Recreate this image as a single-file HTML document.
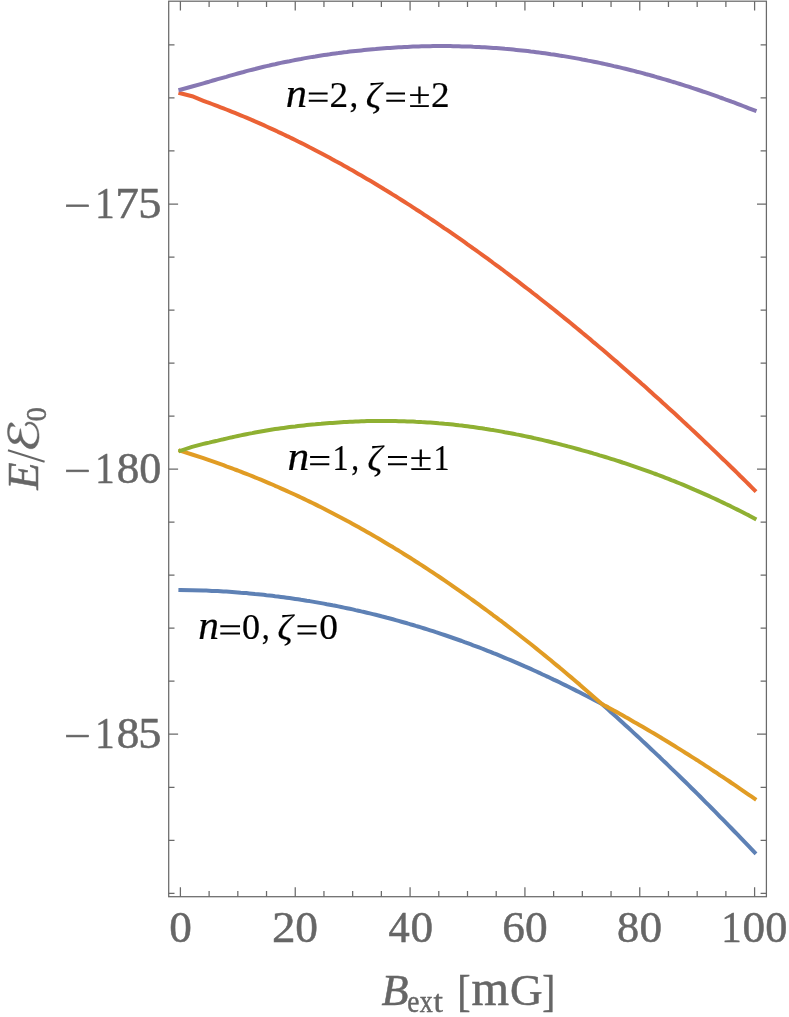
<!DOCTYPE html>
<html><head><meta charset="utf-8"><title>plot</title>
<style>html,body{margin:0;padding:0;background:#fff}svg{display:block}text{font-family:"Liberation Serif",serif}svg{will-change:transform}g.t{filter:opacity(.999)}</style></head>
<body>
<svg width="789" height="1017" viewBox="0 0 789 1017">
<rect width="789" height="1017" fill="#fff"/>
<path d="M180.4,590.0 L192.1,590.2 L203.4,590.5 L206.2,590.6 L209.1,590.7 L212.0,590.9 L214.9,591.0 L217.7,591.1 L220.6,591.3 L223.5,591.5 L226.3,591.6 L229.2,591.8 L232.1,592.0 L234.9,592.2 L237.8,592.4 L240.7,592.7 L243.6,592.9 L246.4,593.1 L249.3,593.4 L252.2,593.7 L255.0,594.0 L257.9,594.2 L260.8,594.5 L263.7,594.8 L266.5,595.2 L269.4,595.5 L272.3,595.8 L275.1,596.2 L278.0,596.5 L280.9,596.9 L283.8,597.3 L286.6,597.7 L289.5,598.1 L292.4,598.5 L295.2,598.9 L298.1,599.3 L301.0,599.8 L303.9,600.2 L306.7,600.7 L309.6,601.1 L312.5,601.6 L315.3,602.1 L318.2,602.6 L321.1,603.1 L324.0,603.6 L326.8,604.2 L329.7,604.7 L332.6,605.3 L335.4,605.8 L338.3,606.4 L341.2,607.0 L344.0,607.6 L346.9,608.2 L349.8,608.8 L352.7,609.4 L355.5,610.1 L358.4,610.7 L361.3,611.4 L364.1,612.0 L367.0,612.7 L369.9,613.4 L372.8,614.1 L375.6,614.8 L378.5,615.5 L381.4,616.3 L384.2,617.0 L387.1,617.8 L390.0,618.5 L392.9,619.3 L395.7,620.1 L398.6,620.9 L401.5,621.7 L404.3,622.5 L407.2,623.3 L410.1,624.2 L413.0,625.0 L415.8,625.9 L418.7,626.7 L421.6,627.6 L424.4,628.5 L427.3,629.4 L430.2,630.3 L433.0,631.2 L435.9,632.2 L438.8,633.1 L441.7,634.1 L444.5,635.0 L447.4,636.0 L450.3,637.0 L453.1,638.0 L456.0,639.0 L458.9,640.0 L461.8,641.0 L464.6,642.1 L467.5,643.1 L470.4,644.2 L473.2,645.3 L476.1,646.3 L479.0,647.4 L481.9,648.5 L484.7,649.7 L487.6,650.8 L490.5,651.9 L493.3,653.1 L496.2,654.2 L499.1,655.4 L502.0,656.6 L504.8,657.8 L507.7,659.0 L510.6,660.2 L513.4,661.4 L516.3,662.6 L519.2,663.9 L522.0,665.1 L524.9,666.4 L527.8,667.6 L530.7,668.9 L533.5,670.2 L536.4,671.5 L539.3,672.8 L542.1,674.2 L545.0,675.5 L547.9,676.8 L550.8,678.2 L553.6,679.6 L556.5,680.9 L559.4,682.3 L562.2,683.7 L565.1,685.1 L568.0,686.5 L570.9,688.0 L573.7,689.4 L576.6,690.9 L579.5,692.3 L582.3,693.8 L585.2,695.3 L588.1,696.7 L591.0,698.2 L593.8,699.7 L596.7,701.3 L599.6,702.8 L602.0,704.1 L602.4,704.5 L605.3,707.0 L608.2,709.6 L611.0,712.2 L613.9,714.7 L616.8,717.3 L619.7,719.9 L622.5,722.5 L625.4,725.2 L628.3,727.8 L631.1,730.4 L634.0,733.1 L636.9,735.7 L639.8,738.4 L642.6,741.1 L645.5,743.8 L648.4,746.5 L651.2,749.2 L654.1,751.9 L657.0,754.6 L659.9,757.3 L662.7,760.1 L665.6,762.8 L668.5,765.6 L671.3,768.4 L674.2,771.1 L677.1,773.9 L680.0,776.7 L682.8,779.5 L685.7,782.3 L688.6,785.2 L691.4,788.0 L694.3,790.8 L697.2,793.7 L700.1,796.5 L702.9,799.4 L705.8,802.3 L708.7,805.2 L711.5,808.0 L714.4,810.9 L717.3,813.9 L720.1,816.8 L723.0,819.7 L725.9,822.6 L728.8,825.6 L731.6,828.5 L734.5,831.5 L737.4,834.4 L740.2,837.4 L743.1,840.4 L746.0,843.4 L748.9,846.4 L751.7,849.4 L754.6,852.4" fill="none" stroke="#5e81b5" stroke-width="4.0" stroke-linejoin="round" stroke-linecap="square"/>
<path d="M180.4,450.8 L192.1,454.5 L203.4,458.2 L206.2,459.2 L209.1,460.2 L212.0,461.2 L214.9,462.2 L217.7,463.2 L220.6,464.2 L223.5,465.2 L226.3,466.3 L229.2,467.3 L232.1,468.4 L234.9,469.5 L237.8,470.5 L240.7,471.6 L243.6,472.8 L246.4,473.9 L249.3,475.0 L252.2,476.2 L255.0,477.3 L257.9,478.5 L260.8,479.7 L263.7,480.9 L266.5,482.1 L269.4,483.3 L272.3,484.5 L275.1,485.8 L278.0,487.0 L280.9,488.3 L283.8,489.6 L286.6,490.9 L289.5,492.2 L292.4,493.5 L295.2,494.8 L298.1,496.1 L301.0,497.5 L303.9,498.9 L306.7,500.2 L309.6,501.6 L312.5,503.0 L315.3,504.4 L318.2,505.9 L321.1,507.3 L324.0,508.7 L326.8,510.2 L329.7,511.7 L332.6,513.2 L335.4,514.7 L338.3,516.2 L341.2,517.7 L344.0,519.2 L346.9,520.8 L349.8,522.3 L352.7,523.9 L355.5,525.5 L358.4,527.1 L361.3,528.7 L364.1,530.3 L367.0,531.9 L369.9,533.6 L372.8,535.2 L375.6,536.9 L378.5,538.6 L381.4,540.3 L384.2,542.0 L387.1,543.7 L390.0,545.4 L392.9,547.1 L395.7,548.9 L398.6,550.6 L401.5,552.4 L404.3,554.2 L407.2,556.0 L410.1,557.8 L413.0,559.6 L415.8,561.5 L418.7,563.3 L421.6,565.2 L424.4,567.0 L427.3,568.9 L430.2,570.8 L433.0,572.7 L435.9,574.6 L438.8,576.5 L441.7,578.5 L444.5,580.4 L447.4,582.4 L450.3,584.3 L453.1,586.3 L456.0,588.3 L458.9,590.3 L461.8,592.3 L464.6,594.4 L467.5,596.4 L470.4,598.5 L473.2,600.5 L476.1,602.6 L479.0,604.7 L481.9,606.8 L484.7,608.9 L487.6,611.0 L490.5,613.1 L493.3,615.3 L496.2,617.4 L499.1,619.6 L502.0,621.7 L504.8,623.9 L507.7,626.1 L510.6,628.3 L513.4,630.5 L516.3,632.8 L519.2,635.0 L522.0,637.2 L524.9,639.5 L527.8,641.8 L530.7,644.0 L533.5,646.3 L536.4,648.6 L539.3,651.0 L542.1,653.3 L545.0,655.6 L547.9,658.0 L550.8,660.3 L553.6,662.7 L556.5,665.1 L559.4,667.4 L562.2,669.8 L565.1,672.2 L568.0,674.7 L570.9,677.1 L573.7,679.5 L576.6,682.0 L579.5,684.4 L582.3,686.9 L585.2,689.4 L588.1,691.9 L591.0,694.4 L593.8,696.9 L596.7,699.4 L599.6,701.9 L602.0,704.1 L602.4,704.3 L605.3,705.9 L608.2,707.4 L611.0,709.0 L613.9,710.6 L616.8,712.1 L619.7,713.7 L622.5,715.3 L625.4,717.0 L628.3,718.6 L631.1,720.2 L634.0,721.9 L636.9,723.5 L639.8,725.2 L642.6,726.8 L645.5,728.5 L648.4,730.2 L651.2,731.9 L654.1,733.6 L657.0,735.3 L659.9,737.0 L662.7,738.8 L665.6,740.5 L668.5,742.3 L671.3,744.0 L674.2,745.8 L677.1,747.6 L680.0,749.4 L682.8,751.1 L685.7,753.0 L688.6,754.8 L691.4,756.6 L694.3,758.4 L697.2,760.2 L700.1,762.1 L702.9,763.9 L705.8,765.8 L708.7,767.7 L711.5,769.6 L714.4,771.5 L717.3,773.3 L720.1,775.3 L723.0,777.2 L725.9,779.1 L728.8,781.0 L731.6,783.0 L734.5,784.9 L737.4,786.9 L740.2,788.8 L743.1,790.8 L746.0,792.8 L748.9,794.8 L751.7,796.7 L754.6,798.7" fill="none" stroke="#e19c24" stroke-width="4.0" stroke-linejoin="round" stroke-linecap="square"/>
<path d="M180.4,450.8 L192.1,446.9 L203.4,443.9 L206.2,443.2 L209.1,442.6 L212.0,441.9 L214.9,441.2 L217.7,440.6 L220.6,439.9 L223.5,439.3 L226.3,438.6 L229.2,437.9 L232.1,437.3 L234.9,436.6 L237.8,436.0 L240.7,435.4 L243.6,434.8 L246.4,434.2 L249.3,433.6 L252.2,433.1 L255.0,432.5 L257.9,432.0 L260.8,431.5 L263.7,431.0 L266.5,430.5 L269.4,430.0 L272.3,429.5 L275.1,429.1 L278.0,428.7 L280.9,428.3 L283.8,427.9 L286.6,427.5 L289.5,427.1 L292.4,426.7 L295.2,426.4 L298.1,426.0 L301.0,425.7 L303.9,425.4 L306.7,425.1 L309.6,424.8 L312.5,424.5 L315.3,424.3 L318.2,424.0 L321.1,423.8 L324.0,423.5 L326.8,423.3 L329.7,423.1 L332.6,422.9 L335.4,422.7 L338.3,422.5 L341.2,422.3 L344.0,422.1 L346.9,421.9 L349.8,421.8 L352.7,421.7 L355.5,421.5 L358.4,421.4 L361.3,421.3 L364.1,421.2 L367.0,421.1 L369.9,421.1 L372.8,421.0 L375.6,421.0 L378.5,421.0 L381.4,421.0 L384.2,421.0 L387.1,421.0 L390.0,421.0 L392.9,421.1 L395.7,421.1 L398.6,421.2 L401.5,421.2 L404.3,421.3 L407.2,421.4 L410.1,421.5 L413.0,421.6 L415.8,421.8 L418.7,421.9 L421.6,422.1 L424.4,422.2 L427.3,422.4 L430.2,422.6 L433.0,422.8 L435.9,423.0 L438.8,423.3 L441.7,423.5 L444.5,423.8 L447.4,424.0 L450.3,424.3 L453.1,424.6 L456.0,424.9 L458.9,425.3 L461.8,425.6 L464.6,425.9 L467.5,426.3 L470.4,426.7 L473.2,427.1 L476.1,427.5 L479.0,427.9 L481.9,428.3 L484.7,428.8 L487.6,429.2 L490.5,429.7 L493.3,430.1 L496.2,430.6 L499.1,431.1 L502.0,431.6 L504.8,432.2 L507.7,432.7 L510.6,433.2 L513.4,433.8 L516.3,434.4 L519.2,434.9 L522.0,435.5 L524.9,436.1 L527.8,436.7 L530.7,437.3 L533.5,438.0 L536.4,438.6 L539.3,439.3 L542.1,439.9 L545.0,440.6 L547.9,441.3 L550.8,442.0 L553.6,442.7 L556.5,443.4 L559.4,444.1 L562.2,444.9 L565.1,445.6 L568.0,446.4 L570.9,447.1 L573.7,447.9 L576.6,448.7 L579.5,449.5 L582.3,450.3 L585.2,451.1 L588.1,451.9 L591.0,452.7 L593.8,453.6 L596.7,454.4 L599.6,455.3 L602.4,456.1 L605.3,457.0 L608.2,457.9 L611.0,458.8 L613.9,459.7 L616.8,460.6 L619.7,461.5 L622.5,462.5 L625.4,463.4 L628.3,464.4 L631.1,465.3 L634.0,466.3 L636.9,467.3 L639.8,468.3 L642.6,469.3 L645.5,470.3 L648.4,471.4 L651.2,472.4 L654.1,473.5 L657.0,474.5 L659.9,475.6 L662.7,476.7 L665.6,477.8 L668.5,478.9 L671.3,480.1 L674.2,481.2 L677.1,482.4 L680.0,483.5 L682.8,484.7 L685.7,485.9 L688.6,487.1 L691.4,488.3 L694.3,489.6 L697.2,490.8 L700.1,492.1 L702.9,493.3 L705.8,494.6 L708.7,495.9 L711.5,497.2 L714.4,498.5 L717.3,499.9 L720.1,501.2 L723.0,502.6 L725.9,504.0 L728.8,505.3 L731.6,506.8 L734.5,508.2 L737.4,509.6 L740.2,511.0 L743.1,512.5 L746.0,514.0 L748.9,515.4 L751.7,516.9 L754.6,518.5" fill="none" stroke="#8fb032" stroke-width="4.0" stroke-linejoin="round" stroke-linecap="square"/>
<path d="M180.4,93.3 L192.1,96.2 L203.4,100.8 L206.2,101.9 L209.1,102.9 L212.0,104.0 L214.9,105.1 L217.7,106.2 L220.6,107.3 L223.5,108.4 L226.3,109.5 L229.2,110.6 L232.1,111.8 L234.9,112.9 L237.8,114.1 L240.7,115.3 L243.6,116.5 L246.4,117.7 L249.3,118.9 L252.2,120.1 L255.0,121.4 L257.9,122.6 L260.8,123.9 L263.7,125.2 L266.5,126.5 L269.4,127.8 L272.3,129.1 L275.1,130.4 L278.0,131.8 L280.9,133.1 L283.8,134.5 L286.6,135.9 L289.5,137.2 L292.4,138.6 L295.2,140.0 L298.1,141.5 L301.0,142.9 L303.9,144.3 L306.7,145.8 L309.6,147.3 L312.5,148.7 L315.3,150.2 L318.2,151.7 L321.1,153.2 L324.0,154.8 L326.8,156.3 L329.7,157.8 L332.6,159.4 L335.4,161.0 L338.3,162.5 L341.2,164.1 L344.0,165.7 L346.9,167.3 L349.8,169.0 L352.7,170.6 L355.5,172.2 L358.4,173.9 L361.3,175.6 L364.1,177.2 L367.0,178.9 L369.9,180.6 L372.8,182.3 L375.6,184.0 L378.5,185.8 L381.4,187.5 L384.2,189.3 L387.1,191.0 L390.0,192.8 L392.9,194.6 L395.7,196.3 L398.6,198.1 L401.5,200.0 L404.3,201.8 L407.2,203.6 L410.1,205.4 L413.0,207.3 L415.8,209.2 L418.7,211.0 L421.6,212.9 L424.4,214.8 L427.3,216.7 L430.2,218.6 L433.0,220.5 L435.9,222.4 L438.8,224.4 L441.7,226.3 L444.5,228.3 L447.4,230.2 L450.3,232.2 L453.1,234.2 L456.0,236.2 L458.9,238.2 L461.8,240.2 L464.6,242.2 L467.5,244.3 L470.4,246.3 L473.2,248.4 L476.1,250.4 L479.0,252.5 L481.9,254.6 L484.7,256.6 L487.6,258.7 L490.5,260.8 L493.3,263.0 L496.2,265.1 L499.1,267.2 L502.0,269.3 L504.8,271.5 L507.7,273.6 L510.6,275.8 L513.4,278.0 L516.3,280.2 L519.2,282.4 L522.0,284.6 L524.9,286.8 L527.8,289.0 L530.7,291.2 L533.5,293.5 L536.4,295.7 L539.3,298.0 L542.1,300.2 L545.0,302.5 L547.9,304.8 L550.8,307.1 L553.6,309.3 L556.5,311.6 L559.4,314.0 L562.2,316.3 L565.1,318.6 L568.0,320.9 L570.9,323.3 L573.7,325.6 L576.6,328.0 L579.5,330.4 L582.3,332.8 L585.2,335.1 L588.1,337.5 L591.0,339.9 L593.8,342.4 L596.7,344.8 L599.6,347.2 L602.4,349.6 L605.3,352.1 L608.2,354.5 L611.0,357.0 L613.9,359.5 L616.8,361.9 L619.7,364.4 L622.5,366.9 L625.4,369.4 L628.3,371.9 L631.1,374.4 L634.0,377.0 L636.9,379.5 L639.8,382.0 L642.6,384.6 L645.5,387.1 L648.4,389.7 L651.2,392.3 L654.1,394.9 L657.0,397.5 L659.9,400.0 L662.7,402.7 L665.6,405.3 L668.5,407.9 L671.3,410.5 L674.2,413.1 L677.1,415.8 L680.0,418.4 L682.8,421.1 L685.7,423.8 L688.6,426.4 L691.4,429.1 L694.3,431.8 L697.2,434.5 L700.1,437.2 L702.9,439.9 L705.8,442.7 L708.7,445.4 L711.5,448.1 L714.4,450.9 L717.3,453.6 L720.1,456.4 L723.0,459.2 L725.9,461.9 L728.8,464.7 L731.6,467.5 L734.5,470.3 L737.4,473.1 L740.2,476.0 L743.1,478.8 L746.0,481.6 L748.9,484.5 L751.7,487.3 L754.6,490.2" fill="none" stroke="#eb6235" stroke-width="4.0" stroke-linejoin="round" stroke-linecap="square"/>
<path d="M180.4,89.7 L192.1,86.5 L203.4,83.3 L206.2,82.5 L209.1,81.7 L212.0,80.8 L214.9,80.0 L217.7,79.2 L220.6,78.4 L223.5,77.6 L226.3,76.8 L229.2,75.9 L232.1,75.1 L234.9,74.3 L237.8,73.5 L240.7,72.7 L243.6,72.0 L246.4,71.2 L249.3,70.4 L252.2,69.7 L255.0,69.0 L257.9,68.2 L260.8,67.5 L263.7,66.8 L266.5,66.1 L269.4,65.5 L272.3,64.8 L275.1,64.2 L278.0,63.5 L280.9,62.9 L283.8,62.3 L286.6,61.7 L289.5,61.2 L292.4,60.6 L295.2,60.0 L298.1,59.5 L301.0,59.0 L303.9,58.4 L306.7,57.9 L309.6,57.4 L312.5,56.9 L315.3,56.5 L318.2,56.0 L321.1,55.5 L324.0,55.1 L326.8,54.7 L329.7,54.3 L332.6,53.8 L335.4,53.4 L338.3,53.1 L341.2,52.7 L344.0,52.3 L346.9,52.0 L349.8,51.6 L352.7,51.3 L355.5,51.0 L358.4,50.7 L361.3,50.4 L364.1,50.1 L367.0,49.8 L369.9,49.5 L372.8,49.2 L375.6,49.0 L378.5,48.7 L381.4,48.5 L384.2,48.3 L387.1,48.1 L390.0,47.9 L392.9,47.7 L395.7,47.5 L398.6,47.3 L401.5,47.2 L404.3,47.0 L407.2,46.9 L410.1,46.7 L413.0,46.6 L415.8,46.5 L418.7,46.4 L421.6,46.3 L424.4,46.3 L427.3,46.2 L430.2,46.2 L433.0,46.1 L435.9,46.1 L438.8,46.1 L441.7,46.1 L444.5,46.1 L447.4,46.1 L450.3,46.1 L453.1,46.2 L456.0,46.2 L458.9,46.3 L461.8,46.4 L464.6,46.4 L467.5,46.5 L470.4,46.6 L473.2,46.8 L476.1,46.9 L479.0,47.0 L481.9,47.2 L484.7,47.3 L487.6,47.5 L490.5,47.7 L493.3,47.9 L496.2,48.1 L499.1,48.3 L502.0,48.5 L504.8,48.8 L507.7,49.0 L510.6,49.3 L513.4,49.6 L516.3,49.9 L519.2,50.2 L522.0,50.5 L524.9,50.8 L527.8,51.1 L530.7,51.5 L533.5,51.8 L536.4,52.2 L539.3,52.6 L542.1,52.9 L545.0,53.3 L547.9,53.7 L550.8,54.2 L553.6,54.6 L556.5,55.0 L559.4,55.5 L562.2,55.9 L565.1,56.4 L568.0,56.9 L570.9,57.4 L573.7,57.9 L576.6,58.4 L579.5,58.9 L582.3,59.5 L585.2,60.0 L588.1,60.6 L591.0,61.1 L593.8,61.7 L596.7,62.3 L599.6,62.9 L602.4,63.5 L605.3,64.1 L608.2,64.8 L611.0,65.4 L613.9,66.1 L616.8,66.7 L619.7,67.4 L622.5,68.1 L625.4,68.8 L628.3,69.5 L631.1,70.2 L634.0,70.9 L636.9,71.7 L639.8,72.4 L642.6,73.2 L645.5,74.0 L648.4,74.7 L651.2,75.5 L654.1,76.3 L657.0,77.2 L659.9,78.0 L662.7,78.8 L665.6,79.6 L668.5,80.5 L671.3,81.4 L674.2,82.2 L677.1,83.1 L680.0,84.0 L682.8,84.9 L685.7,85.8 L688.6,86.7 L691.4,87.7 L694.3,88.6 L697.2,89.5 L700.1,90.5 L702.9,91.5 L705.8,92.4 L708.7,93.4 L711.5,94.4 L714.4,95.4 L717.3,96.4 L720.1,97.5 L723.0,98.5 L725.9,99.6 L728.8,100.6 L731.6,101.7 L734.5,102.7 L737.4,103.8 L740.2,104.9 L743.1,106.0 L746.0,107.1 L748.9,108.3 L751.7,109.4 L754.6,110.5" fill="none" stroke="#8778b3" stroke-width="4.0" stroke-linejoin="round" stroke-linecap="square"/>
<g stroke="#6a6a6a" stroke-width="1.25" fill="none">
<rect x="168.7" y="1.2" width="597.7" height="895.5"/>
<path d="M180.40,896.70 v-9.40 M180.40,1.20 v9.40 M209.11,896.70 v-5.80 M209.11,1.20 v5.80 M237.82,896.70 v-5.80 M237.82,1.20 v5.80 M266.53,896.70 v-5.80 M266.53,1.20 v5.80 M295.24,896.70 v-9.40 M295.24,1.20 v9.40 M323.95,896.70 v-5.80 M323.95,1.20 v5.80 M352.66,896.70 v-5.80 M352.66,1.20 v5.80 M381.37,896.70 v-5.80 M381.37,1.20 v5.80 M410.08,896.70 v-9.40 M410.08,1.20 v9.40 M438.79,896.70 v-5.80 M438.79,1.20 v5.80 M467.50,896.70 v-5.80 M467.50,1.20 v5.80 M496.21,896.70 v-5.80 M496.21,1.20 v5.80 M524.92,896.70 v-9.40 M524.92,1.20 v9.40 M553.63,896.70 v-5.80 M553.63,1.20 v5.80 M582.34,896.70 v-5.80 M582.34,1.20 v5.80 M611.05,896.70 v-5.80 M611.05,1.20 v5.80 M639.76,896.70 v-9.40 M639.76,1.20 v9.40 M668.47,896.70 v-5.80 M668.47,1.20 v5.80 M697.18,896.70 v-5.80 M697.18,1.20 v5.80 M725.89,896.70 v-5.80 M725.89,1.20 v5.80 M754.60,896.70 v-9.40 M754.60,1.20 v9.40 M168.70,893.31 h5.80 M766.40,893.31 h-5.80 M168.70,840.29 h5.80 M766.40,840.29 h-5.80 M168.70,787.26 h5.80 M766.40,787.26 h-5.80 M168.70,734.24 h9.40 M766.40,734.24 h-9.40 M168.70,681.22 h5.80 M766.40,681.22 h-5.80 M168.70,628.19 h5.80 M766.40,628.19 h-5.80 M168.70,575.17 h5.80 M766.40,575.17 h-5.80 M168.70,522.14 h5.80 M766.40,522.14 h-5.80 M168.70,469.12 h9.40 M766.40,469.12 h-9.40 M168.70,416.10 h5.80 M766.40,416.10 h-5.80 M168.70,363.07 h5.80 M766.40,363.07 h-5.80 M168.70,310.05 h5.80 M766.40,310.05 h-5.80 M168.70,257.02 h5.80 M766.40,257.02 h-5.80 M168.70,204.00 h9.40 M766.40,204.00 h-9.40 M168.70,150.98 h5.80 M766.40,150.98 h-5.80 M168.70,97.95 h5.80 M766.40,97.95 h-5.80 M168.70,44.93 h5.80 M766.40,44.93 h-5.80"/>
</g>
<g class="t" fill="#666" stroke="#666" stroke-width="0.5">
<text transform="translate(169.24,942.30) scale(1.028,1.000)" font-size="44">0</text>
<text transform="translate(272.02,942.30) scale(1.070,1.000)" font-size="44">2</text>
<text transform="translate(295.34,942.30) scale(1.033,1.000)" font-size="44">0</text>
<text transform="translate(388.57,942.30) scale(0.966,1.000)" font-size="44">4</text>
<text transform="translate(410.44,942.30) scale(1.028,1.000)" font-size="44">0</text>
<text transform="translate(502.19,942.30) scale(1.028,1.000)" font-size="44">6</text>
<text transform="translate(524.94,942.30) scale(1.033,1.000)" font-size="44">0</text>
<text transform="translate(617.07,942.30) scale(1.007,1.000)" font-size="44">8</text>
<text transform="translate(639.44,942.30) scale(1.028,1.000)" font-size="44">0</text>
<text transform="translate(721.23,942.30) scale(0.928,1.000)" font-size="44">1</text>
<text transform="translate(742.54,942.30) scale(1.028,1.000)" font-size="44">0</text>
<text transform="translate(765.37,942.30) scale(1.007,1.000)" font-size="44">0</text>
<rect x="66.3" y="204.85" width="22.4" height="1.9"/>
<text transform="translate(95.21,217.70) scale(0.878,1.000)" font-size="44">1</text>
<text transform="translate(115.26,217.70) scale(1.077,1.000)" font-size="44">7</text>
<text transform="translate(138.19,217.70) scale(1.050,1.000)" font-size="44">5</text>
<rect x="66.3" y="469.97" width="22.4" height="1.9"/>
<text transform="translate(95.21,482.82) scale(0.878,1.000)" font-size="44">1</text>
<text transform="translate(116.74,482.82) scale(1.028,1.000)" font-size="44">8</text>
<text transform="translate(139.18,482.82) scale(1.002,1.000)" font-size="44">0</text>
<rect x="66.3" y="735.09" width="22.4" height="1.9"/>
<text transform="translate(95.21,747.94) scale(0.878,1.000)" font-size="44">1</text>
<text transform="translate(116.74,747.94) scale(1.028,1.000)" font-size="44">8</text>
<text transform="translate(138.19,747.94) scale(1.050,1.000)" font-size="44">5</text>
</g>
<g class="t" fill="#666" stroke="#666" stroke-width="0.5">
<text transform="translate(381.60,1005.00) scale(1.005,1.000)" font-size="44" font-style="italic">B</text>
<text transform="translate(407.18,1011.60) scale(0.883,1.030)" font-size="31">e</text>
<text transform="translate(419.70,1011.60) scale(0.836,1.024)" font-size="31">x</text>
<text transform="translate(433.60,1011.60) scale(1.094,1.000)" font-size="31">t</text>
<text transform="translate(457.30,1005.80) scale(0.889,1.000)" font-size="45">[</text>
<text transform="translate(471.43,1005.20) scale(1.097,1.170)" font-size="44">m</text>
<text transform="translate(509.89,1005.20) scale(1.026,1.030)" font-size="44">G</text>
<text transform="translate(542.24,1005.80) scale(0.860,1.000)" font-size="45">]</text>
</g>
<g class="t" fill="#666" stroke="#666" stroke-width="0.5"><g transform="translate(0,491) rotate(-90)">
<text transform="translate(1.19,37.70) scale(1.015,1.000)" font-size="44" font-style="italic">E</text>
<path d="M29.2,44.6 L40.8,8.0" stroke="#666" stroke-width="2" fill="none"/>
<path stroke-width="0.4" stroke-linejoin="round" d="M67.44,9.51 L68.14,10.65 L68.27,11.72 L67.57,12.86 L65.99,14.07 L64.21,15.34 L64.72,13.62 L64.85,12.04 L64.28,10.65 L61.74,9.70 L58.89,9.25 L56.04,9.51 L53.69,10.46 L51.79,12.36 L51.10,14.58 L51.92,16.60 L53.82,18.25 L56.67,19.20 L59.52,19.65 L61.93,20.03 L62.38,20.41 L60.79,20.91 L57.62,21.42 L54.45,22.05 L51.16,23.45 L48.43,25.98 L47.04,28.52 L46.72,31.05 L47.61,33.59 L49.70,35.61 L52.55,36.88 L55.72,37.39 L58.89,37.20 L61.93,36.25 L64.59,34.54 L66.37,32.32 L67.13,30.10 L67.00,28.20 L65.99,26.93 L65.10,26.11 L65.54,25.22 L66.62,25.10 L67.89,25.86 L68.65,27.25 L69.03,29.15 L68.71,31.69 L67.13,34.54 L64.59,36.76 L61.11,38.21 L56.99,38.97 L53.19,39.10 L49.38,38.47 L45.90,37.07 L43.36,34.85 L42.29,32.32 L42.29,29.78 L43.36,26.93 L45.26,24.40 L47.80,22.31 L50.02,20.91 L50.78,20.15 L49.07,19.01 L47.80,17.11 L47.36,14.89 L47.80,12.67 L49.38,10.46 L52.24,8.75 L55.72,7.73 L59.21,7.41 L62.69,7.73 L65.54,8.43 Z"/>
<text transform="translate(69.66,45.50) scale(0.964,1.000)" font-size="29">0</text>
</g></g>
<g class="t" fill="#000" stroke="#000" stroke-width="0.2">
<text transform="translate(285.82,106.70) scale(1.216,1.155)" font-size="35" font-style="italic">n</text>
<path d="M308.80,93.60H327.60M308.80,100.80H327.60" stroke="#000" stroke-width="2.0" fill="none"/>
<text transform="translate(329.61,106.70) scale(1.066,1.000)" font-size="35">2</text>
<text transform="translate(349.45,106.70) scale(1.000,1.000)" font-size="35">,</text>
<text transform="translate(365.74,107.89) scale(1.104,1.049)" font-size="35" font-style="italic">ζ</text>
<path d="M386.30,93.60H405.00M386.30,100.80H405.00" stroke="#000" stroke-width="2.0" fill="none"/>
<text transform="translate(408.60,106.70) scale(1.143,1.000)" font-size="35">±</text>
<text transform="translate(431.01,106.70) scale(1.066,1.000)" font-size="35">2</text>
<text transform="translate(287.50,470.20) scale(1.243,1.155)" font-size="35" font-style="italic">n</text>
<path d="M310.10,457.10H329.30M310.10,464.30H329.30" stroke="#000" stroke-width="2.0" fill="none"/>
<text transform="translate(332.42,470.20) scale(0.921,1.000)" font-size="35">1</text>
<text transform="translate(351.26,470.20) scale(0.893,1.000)" font-size="35">,</text>
<text transform="translate(367.50,471.39) scale(1.052,1.049)" font-size="35" font-style="italic">ζ</text>
<path d="M388.00,457.10H407.00M388.00,464.30H407.00" stroke="#000" stroke-width="2.0" fill="none"/>
<text transform="translate(409.77,470.20) scale(1.161,1.000)" font-size="35">±</text>
<text transform="translate(433.54,470.20) scale(0.913,1.000)" font-size="35">1</text>
<text transform="translate(198.16,639.30) scale(1.183,1.155)" font-size="35" font-style="italic">n</text>
<path d="M220.30,626.20H240.00M220.30,633.40H240.00" stroke="#000" stroke-width="2.0" fill="none"/>
<text transform="translate(242.02,639.30) scale(1.032,1.000)" font-size="35">0</text>
<text transform="translate(261.84,639.30) scale(0.911,1.000)" font-size="35">,</text>
<text transform="translate(277.38,640.49) scale(1.071,1.049)" font-size="35" font-style="italic">ζ</text>
<path d="M297.50,626.20H316.50M297.50,633.40H316.50" stroke="#000" stroke-width="2.0" fill="none"/>
<text transform="translate(319.18,639.30) scale(1.071,1.000)" font-size="35">0</text>
</g>
</svg>
</body></html>
